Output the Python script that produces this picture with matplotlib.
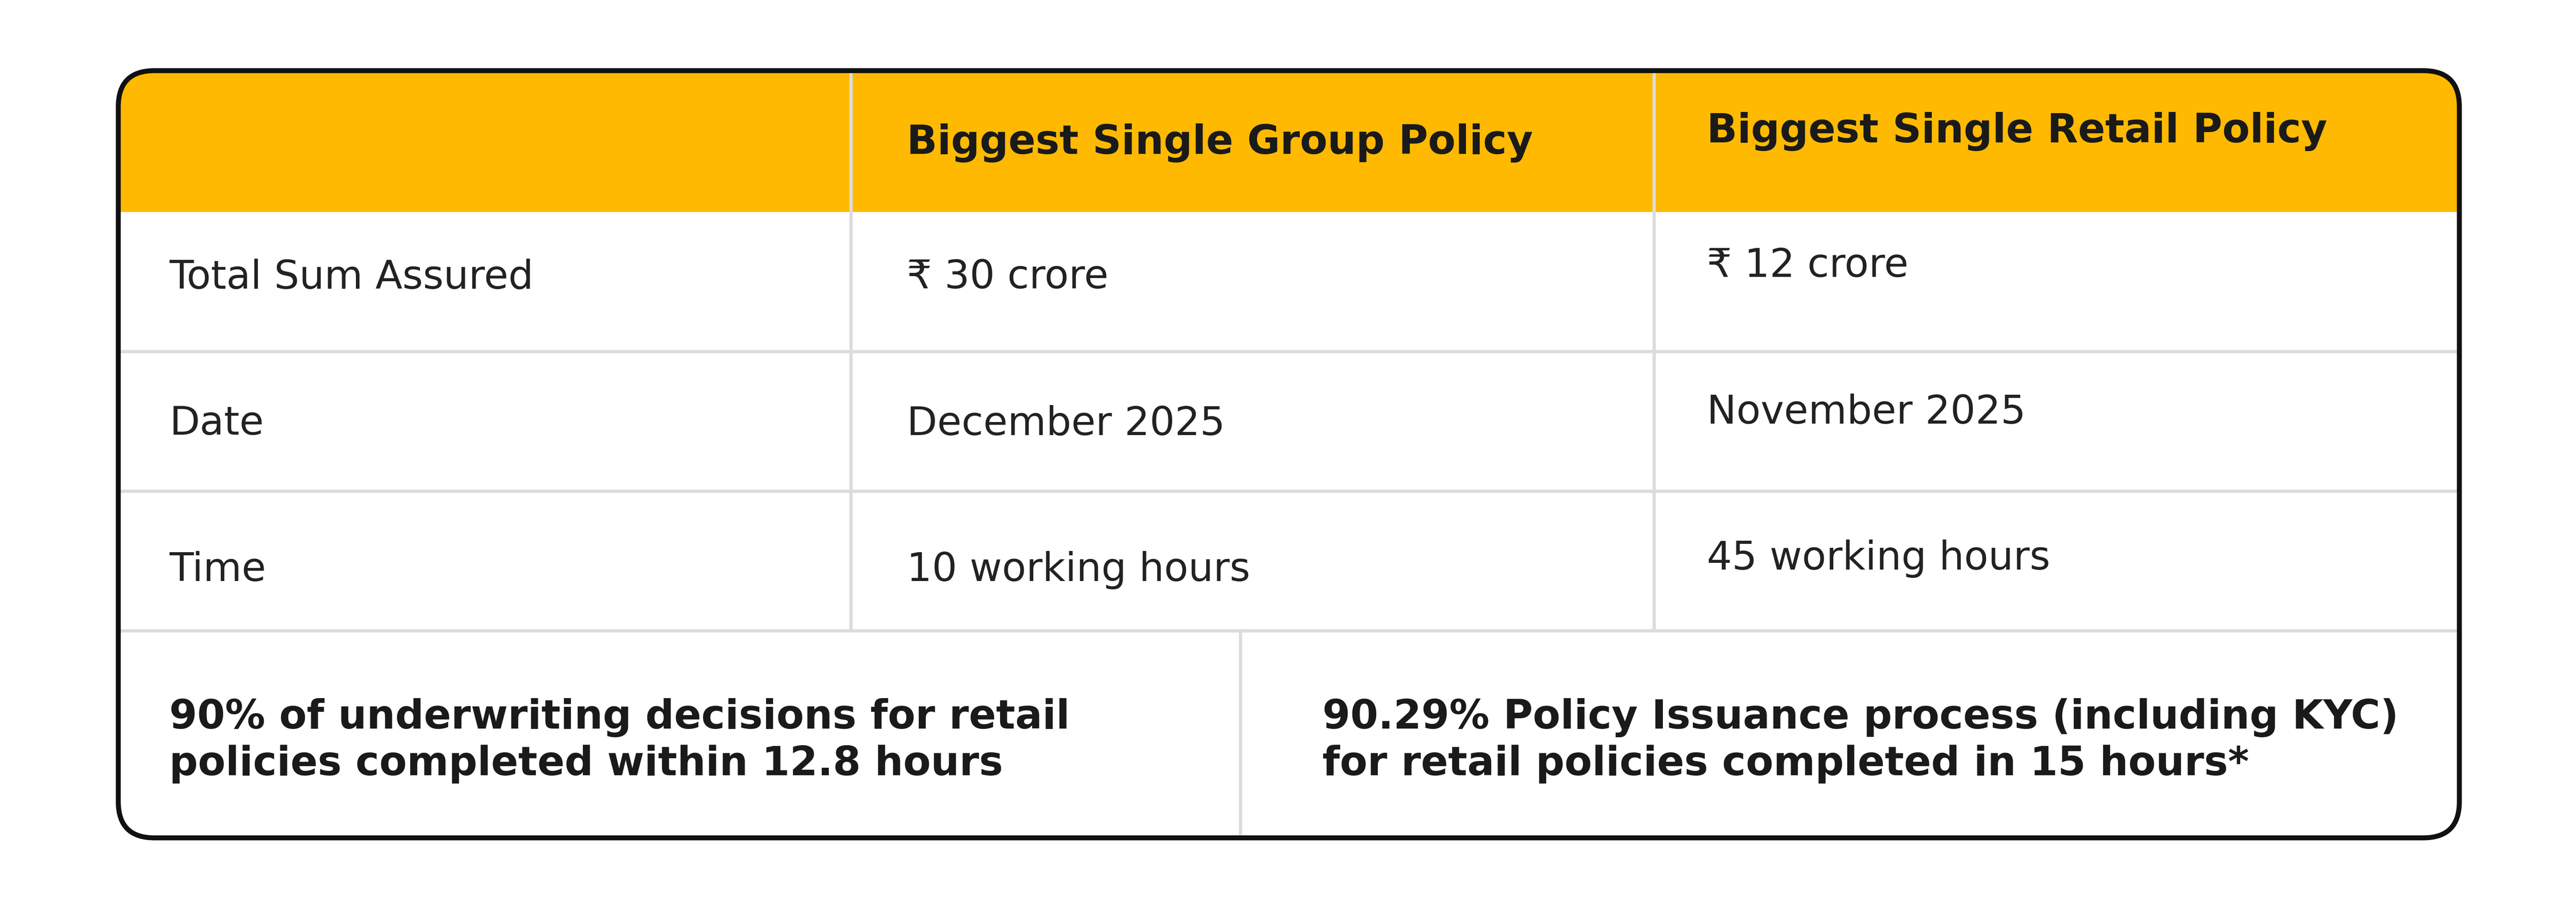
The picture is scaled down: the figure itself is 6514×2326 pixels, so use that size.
import matplotlib
matplotlib.use("Agg")
import matplotlib.pyplot as plt
from matplotlib.patches import FancyBboxPatch, Rectangle

headers = ["", "Biggest Single Group Policy", "Biggest Single Retail Policy"]
row_labels = ["Total Sum Assured", "Date", "Time"]
group_vals = ["₹ 30 crore", "December 2025", "10 working hours"]
retail_vals = ["₹ 12 crore", "November 2025", "45 working hours"]
footer_left = "90% of underwriting decisions for retail\npolicies completed within 12.8 hours"
footer_right = "90.29% Policy Issuance process (including KYC)\nfor retail policies completed in 15 hours*"

FAM = ["DejaVu Sans"]
W, H = 1568, 560
fig = plt.figure(figsize=(65.14, 23.26), dpi=100)
ax = fig.add_axes([0, 0, 1, 1])
ax.set_xlim(0, W); ax.set_ylim(H, 0); ax.axis("off")

x0, x1, y0, y1 = 72, 1497, 43, 510
c1, c2, cm = 518, 1007, 755
hy = 129
rows = [129, 214, 299, 384]

box = FancyBboxPatch((x0, y0), x1 - x0, y1 - y0, boxstyle="round,pad=0,rounding_size=22",
                     fc="white", ec="none", zorder=1)
ax.add_patch(box)
hdr = Rectangle((x0, y0), x1 - x0, hy - y0, fc="#FFB900", ec="none", zorder=2)
ax.add_patch(hdr); hdr.set_clip_path(box)

gray = "#dcdcdc"; lw = 6
for y in rows[1:]:
    ax.plot([x0, x1], [y, y], color=gray, lw=lw, zorder=3)
for x in (c1, c2):
    ax.plot([x, x], [y0, rows[3]], color=gray, lw=lw, zorder=3)
ax.plot([cm, cm], [rows[3], y1], color=gray, lw=lw, zorder=3)
ax.add_patch(FancyBboxPatch((x0, y0), x1 - x0, y1 - y0, boxstyle="round,pad=0,rounding_size=22",
                            fc="none", ec="#111111", lw=9, zorder=5))

fs = 72
fb = 73
ax.text(552, 87, headers[1], fontsize=fb, fontweight="bold", family=FAM, va="center", color="#1a1a1a", zorder=6)
ax.text(1039, 80, headers[2], fontsize=fb, fontweight="bold", family=FAM, va="center", color="#1a1a1a", zorder=6)
ys_l = [169, 258, 347]
ys_r = [162, 251, 340]
for i in range(3):
    ax.text(103, ys_l[i], row_labels[i], fontsize=fs, family=FAM, va="center", color="#222222", zorder=6)
    ax.text(552, ys_l[i], group_vals[i], fontsize=fs, family=FAM, va="center", color="#222222", zorder=6)
    ax.text(1039, ys_r[i], retail_vals[i], fontsize=fs, family=FAM, va="center", color="#222222", zorder=6)
ax.text(103, 451, footer_left, fontsize=fb, fontweight="bold", family=FAM, va="center", color="#1a1a1a", linespacing=1.25, zorder=6)
ax.text(805, 451, footer_right, fontsize=fb, fontweight="bold", family=FAM, va="center", color="#1a1a1a", linespacing=1.25, zorder=6)

fig.savefig("out.png", dpi=100, facecolor="white")
